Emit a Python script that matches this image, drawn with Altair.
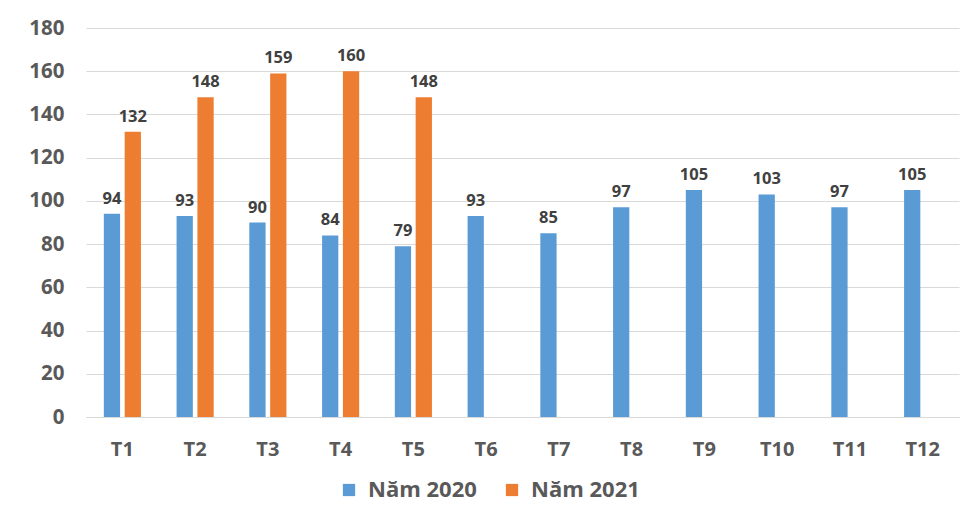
import altair as alt
import pandas as pd

months = ["T1", "T2", "T3", "T4", "T5", "T6", "T7", "T8", "T9", "T10", "T11", "T12"]
values_2020 = [94, 93, 90, 84, 79, 93, 85, 97, 105, 103, 97, 105]
values_2021 = [132, 148, 159, 160, 148, None, None, None, None, None, None, None]
series = ["Năm 2020", "Năm 2021"]
colors = ["#5B9BD5", "#ED7D31"]

rows = []
for m, a, b in zip(months, values_2020, values_2021):
    rows.append({"month": m, "series": series[0], "value": a})
    if b is not None:
        rows.append({"month": m, "series": series[1], "value": b})
df = pd.DataFrame(rows)

FONT = "Open Sans"

x = alt.X("month:N", sort=months, title=None,
          scale=alt.Scale(paddingInner=0.49, paddingOuter=0.245),
          axis=alt.Axis(labelAngle=0, labelFontSize=20, labelFontWeight="bold",
                        labelColor="#595959", labelFont=FONT, ticks=False,
                        domainColor="#D9D9D9", labelPadding=22))
xo = alt.XOffset("series:N", sort=series, scale=alt.Scale(paddingInner=0.22, paddingOuter=0))
y = alt.Y("value:Q", title=None,
          scale=alt.Scale(domain=[0, 180], nice=False),
          axis=alt.Axis(values=list(range(0, 181, 20)), labelFontSize=20.5,
                        labelFontWeight="bold", labelColor="#595959", labelFont=FONT,
                        ticks=False, domain=False, gridColor="#D9D9D9",
                        labelPadding=22))
color = alt.Color("series:N", sort=series, title=None,
                  scale=alt.Scale(domain=series, range=colors),
                  legend=alt.Legend(orient="none", direction="horizontal",
                                    legendX=252, legendY=451,
                                    symbolType="square", symbolSize=150,
                                    symbolStrokeWidth=0,
                                    labelFontSize=22, labelFontWeight="bold",
                                    labelColor="#595959", labelFont=FONT,
                                    columnPadding=24, labelOffset=8))

base = alt.Chart(df).encode(x=x, xOffset=xo, y=y)
bars = base.mark_bar().encode(color=color)
labels = base.mark_text(dy=-15, fontSize=16.5, fontWeight="bold", color="#404040",
                        font=FONT).encode(text="value:Q")

chart = (bars + labels).properties(
    width=873, height=389,
    autosize=alt.AutoSizeParams(type="none"),
    padding={"left": 78, "top": 20, "right": 5, "bottom": 90},
).configure_view(stroke=None)

chart.save("out.html", embed_options={"renderer": "svg", "actions": False})
